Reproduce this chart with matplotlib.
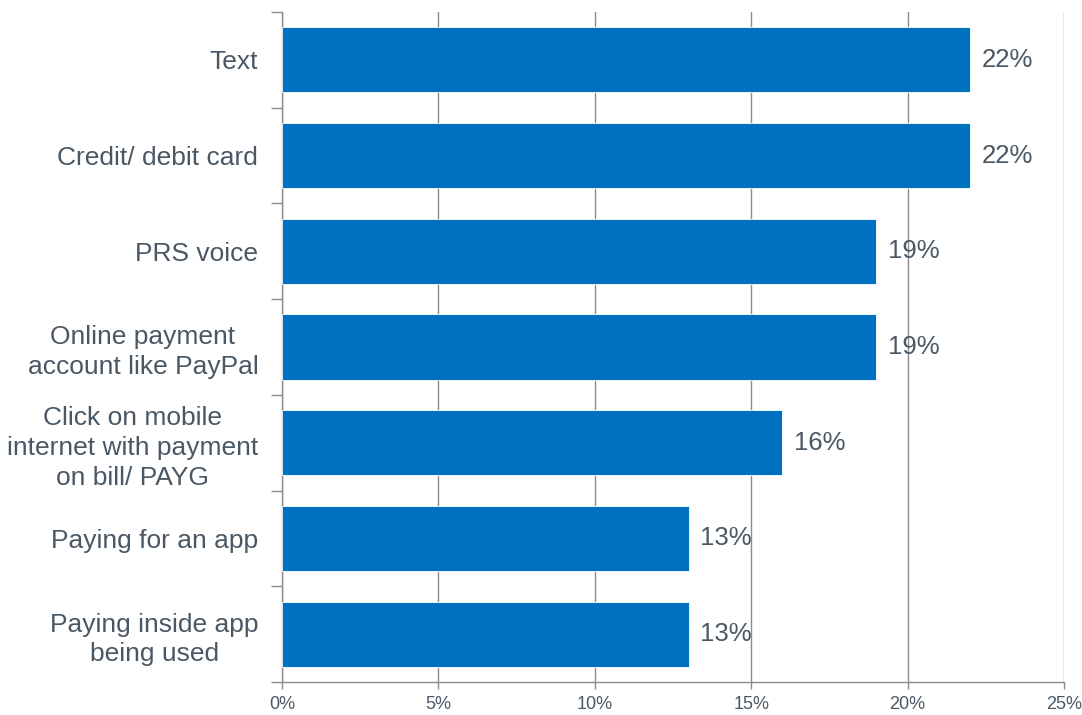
import matplotlib
matplotlib.use("Agg")
import matplotlib.pyplot as plt
from matplotlib.ticker import FixedLocator, MultipleLocator, PercentFormatter

plt.rcParams['font.family'] = ['Liberation Sans', 'DejaVu Sans']

categories = [
    "Text",
    "Credit/ debit card",
    "PRS voice",
    "Online payment\naccount like PayPal",
    "Click on mobile\ninternet with payment\non bill/ PAYG",
    "Paying for an app",
    "Paying inside app\nbeing used",
]
values = [22, 22, 19, 19, 16, 13, 13]

bar_color = "#0070C0"
text_color = "#4A5866"
axis_color = "#8C8C8C"

fig = plt.figure(figsize=(10.82, 7.15), dpi=100)
ax = fig.add_axes([0.2606, 0.0462, 0.7228, 0.9370])

ypos = list(range(len(categories)))
ax.barh(ypos, values, height=0.68, color=bar_color, edgecolor="white",
        linewidth=0.6, zorder=3)

for y, v in zip(ypos, values):
    ax.annotate(f"{v}%", xy=(v, y), xytext=(8.5, 0), textcoords="offset points",
                va="center", ha="left", fontsize=18.5, color=text_color,
                zorder=4)

ax.set_xlim(0, 25)
ax.set_ylim(len(categories) - 0.5, -0.5)

ax.xaxis.set_major_locator(MultipleLocator(5))
ax.xaxis.set_major_formatter(PercentFormatter(decimals=0))
ax.grid(axis="x", color=axis_color, linewidth=1.0, zorder=1)

# category labels centred on bars, tick marks at category boundaries
ax.set_yticks(ypos)
ax.set_yticklabels(categories, fontsize=19, color=text_color,
                   linespacing=1.3, multialignment="center")
ax.tick_params(axis="y", which="major", length=0, pad=17)
ax.yaxis.set_minor_locator(FixedLocator([i - 0.5 for i in range(len(categories) + 1)]))
ax.tick_params(axis="y", which="minor", length=8, width=1.0, color=axis_color,
               direction="out")

ax.tick_params(axis="x", which="major", length=5, width=1.0, color=axis_color,
               labelsize=13, labelcolor=text_color, pad=5)

for side in ("top", "right"):
    ax.spines[side].set_visible(False)
for side in ("left", "bottom"):
    ax.spines[side].set_color(axis_color)
    ax.spines[side].set_linewidth(1.0)

fig.savefig("out.png", dpi=100)
